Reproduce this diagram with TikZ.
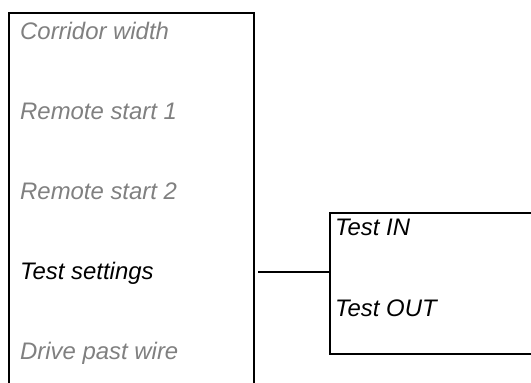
\documentclass[tikz,border=0pt]{standalone}
\usepackage{fontspec}
\setmainfont{Liberation Sans}
\definecolor{labelgrey}{HTML}{808080}
\begin{document}
\begin{tikzpicture}[x=1bp,y=-1bp,
  frame/.style={line width=1.6bp,black},
  lbl/.style={anchor=base west,inner sep=0pt,font=\fontsize{24pt}{27pt}\selectfont\itshape},
  dim/.style={lbl,text=labelgrey},
  act/.style={lbl,text=black}]
\useasboundingbox (0,0) rectangle (531,382);
% left box (open at bottom)
\coordinate (lbl) at (9,383);
\coordinate (ltl) at (9,13);
\coordinate (ltr) at (254,13);
\coordinate (lbr) at (254,383);
\draw[frame] (lbl) -- (ltl) -- (ltr) -- (lbr);
% right box (open at right)
\coordinate (rtr) at (532,213);
\coordinate (rtl) at (330,213);
\coordinate (rbl) at (330,354);
\coordinate (rbr) at (532,354);
\draw[frame] (rtr) -- (rtl) -- (rbl) -- (rbr);
% labels
\node[dim] (corr) at (20,39) {Corridor width};
\node[dim] (rs1) at (20,119) {Remote start 1};
\node[dim] (rs2) at (20,199) {Remote start 2};
\node[act] (ts) at (20,279) {Test settings};
\node[dim] (dpw) at (20,359) {Drive past wire};
\node[act] (tin) at (335,235) {Test IN};
\node[act] (tout) at (335,316) {Test OUT};
% connector
\coordinate (cs) at (258,272);
\coordinate (ce) at (330,272);
\draw[frame] (cs) -- (ce);
\end{tikzpicture}
\end{document}
